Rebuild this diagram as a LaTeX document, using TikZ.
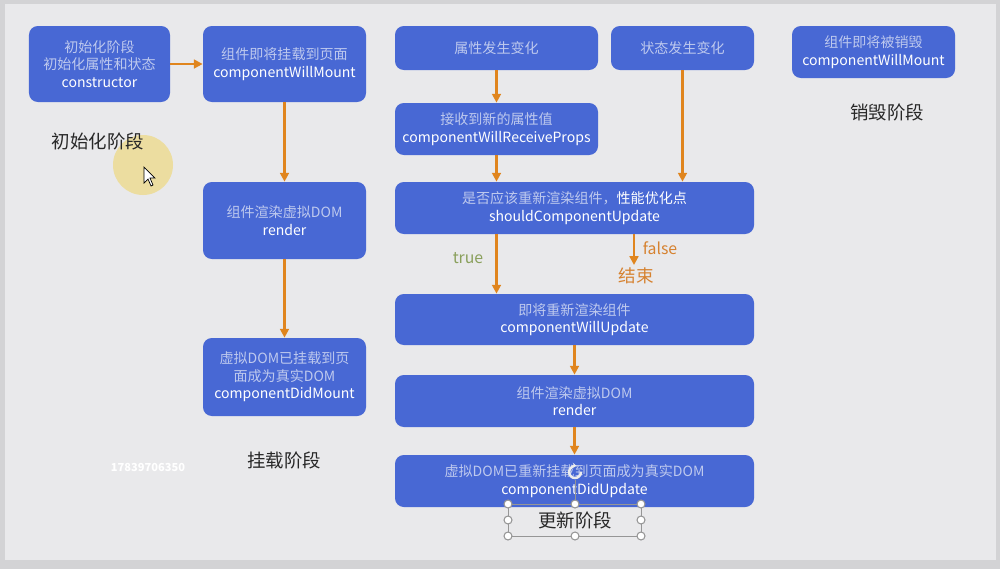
\documentclass[tikz,border=0pt]{standalone}
\usepackage{fontspec}
\setmainfont{Noto Sans CJK SC}
\usepackage{xcolor}
\usepackage{tikz}
\usetikzlibrary{arrows.meta,positioning,calc}

\definecolor{framegray}{RGB}{211,211,213}
\definecolor{slidebg}{RGB}{233,233,235}
\definecolor{boxblue}{RGB}{72,104,212}
\definecolor{zhlight}{RGB}{190,201,238}
\definecolor{flowor}{RGB}{224,133,30}
\definecolor{falseor}{RGB}{214,130,48}
\definecolor{truegreen}{RGB}{138,160,92}
\definecolor{stagegray}{RGB}{40,40,40}
\definecolor{hlyellow}{RGB}{236,221,160}
\definecolor{handlegray}{RGB}{150,150,150}

\newcommand{\zh}[1]{\textcolor{zhlight}{#1}}

\begin{document}
\begin{tikzpicture}[
    x=0.2mm, y=-0.2mm,
    phase/.style={fill=boxblue, rounded corners=5pt, text=white, align=center, inner sep=0pt, font=\fontsize{8}{10}\selectfont},
    stage/.style={font=\fontsize{10.5}{12}\selectfont, text=stagegray},
    flow/.style={draw=flowor, line width=1.5pt, -{Triangle[width=5pt,length=5pt]}},
    >=Stealth
]

\useasboundingbox (0,0) rectangle (1000,569);
\fill[framegray] (0,0) rectangle (1000,569);
\fill[slidebg] (5,4) rectangle (996,560);

% pointer highlight
\fill[hlyellow] (143,165) circle (30);

% init
\node[phase, minimum width=28.2mm, minimum height=15.2mm] (init) at (99.5,64) {\zh{初始化阶段}\\\zh{初始化属性和状态}\\constructor};
\node[stage] (initlbl) at (98,141) {初始化阶段};

% mount
\node[phase, minimum width=32.6mm, minimum height=15.2mm] (willmount) at (284.5,64) {\zh{组件即将挂载到页面}\\componentWillMount};
\node[phase, minimum width=32.6mm, minimum height=15.4mm] (render) at (284.5,220.5) {\zh{组件渲染虚拟DOM}\\render};
\node[phase, minimum width=32.6mm, minimum height=15.6mm] (didmount) at (284.5,377) {\zh{虚拟DOM已挂载到页}\\\zh{面成为真实DOM}\\componentDidMount};
\node[stage] (mountlbl) at (284,460) {挂载阶段};

% update
\node[phase, minimum width=40.6mm, minimum height=8.8mm] (propchg) at (496.5,48) {\zh{属性发生变化}};
\node[phase, minimum width=28.6mm, minimum height=8.8mm] (statechg) at (682.5,48) {\zh{状态发生变化}};
\node[phase, minimum width=40.6mm, minimum height=10.4mm] (recvprops) at (496.5,129) {\zh{接收到新的属性值}\\componentWillReceiveProps};
\node[phase, minimum width=71.8mm, minimum height=10.4mm] (shouldupd) at (574.5,208) {\zh{是否应该重新渲染组件，}性能优化点\\shouldComponentUpdate};
\node[phase, minimum width=71.8mm, minimum height=10.2mm] (willupd) at (574.5,319.5) {\zh{即将重新渲染组件}\\componentWillUpdate};
\node[phase, minimum width=71.8mm, minimum height=10.4mm] (render2) at (574.5,401) {\zh{组件渲染虚拟DOM}\\render};
\node[phase, minimum width=71.8mm, minimum height=10.4mm] (didupd) at (574.5,481) {\zh{虚拟DOM已重新挂载到页面成为真实DOM}\\componentDidUpdate};
\node[stage] (updlbl) at (575,520) {更新阶段};

\node[font=\fontsize{9}{10}\selectfont, text=truegreen] (truelbl) at (468,258) {true};
\node[font=\fontsize{9}{10}\selectfont, text=falseor] (falselbl) at (660,248) {false};
\node[font=\fontsize{10}{11}\selectfont, text=falseor] (endlbl) at (636,276) {结束};
\coordinate (endtop) at (634,265);

% unmount
\node[phase, minimum width=32.6mm, minimum height=10.4mm] (willunmount) at (873.5,52) {\zh{组件即将被销毁}\\componentWillMount};
\node[stage] (unmountlbl) at (887,112) {销毁阶段};

\node[font=\fontsize{6.3}{7}\selectfont\bfseries, text=white] (phone) at (148,467) {17839706350};

% arrows
\draw[flow] (init) -- (willmount);
\draw[flow] (willmount) -- (render);
\draw[flow] (render) -- (didmount);
\draw[flow] (propchg) -- (recvprops);
\draw[flow] (recvprops.south) -- (recvprops.south |- shouldupd.north);
\draw[flow] (statechg.south) -- (statechg.south |- shouldupd.north);
\draw[flow] (recvprops.south |- shouldupd.south) -- (recvprops.south |- willupd.north);
\draw[flow] (endtop |- shouldupd.south) -- (endtop);
\draw[flow] (willupd) -- (render2);
\draw[flow] (render2) -- (didupd);

% selection frame round the update label
\draw[handlegray, line width=0.5pt] (508,504) rectangle (641,536);
\draw[handlegray, line width=0.5pt] (575,480) -- (575,504);
\foreach \hx/\hy in {508/504, 575/504, 641/504, 508/520, 641/520, 508/536, 575/536, 641/536}
  \filldraw[fill=white, draw=handlegray, line width=0.6pt] (\hx,\hy) circle (4);
\draw[white!85!gray, line width=1.4pt, -{Stealth[length=3pt]}] (581,472) arc[start angle=0, end angle=290, radius=6];

% pointer
\filldraw[fill=white, draw=black, line width=0.4pt] (144,167) -- (144,183) -- (148,179) -- (151,186) -- (153,185) -- (150,178) -- (155,178) -- cycle;

\end{tikzpicture}
\end{document}
